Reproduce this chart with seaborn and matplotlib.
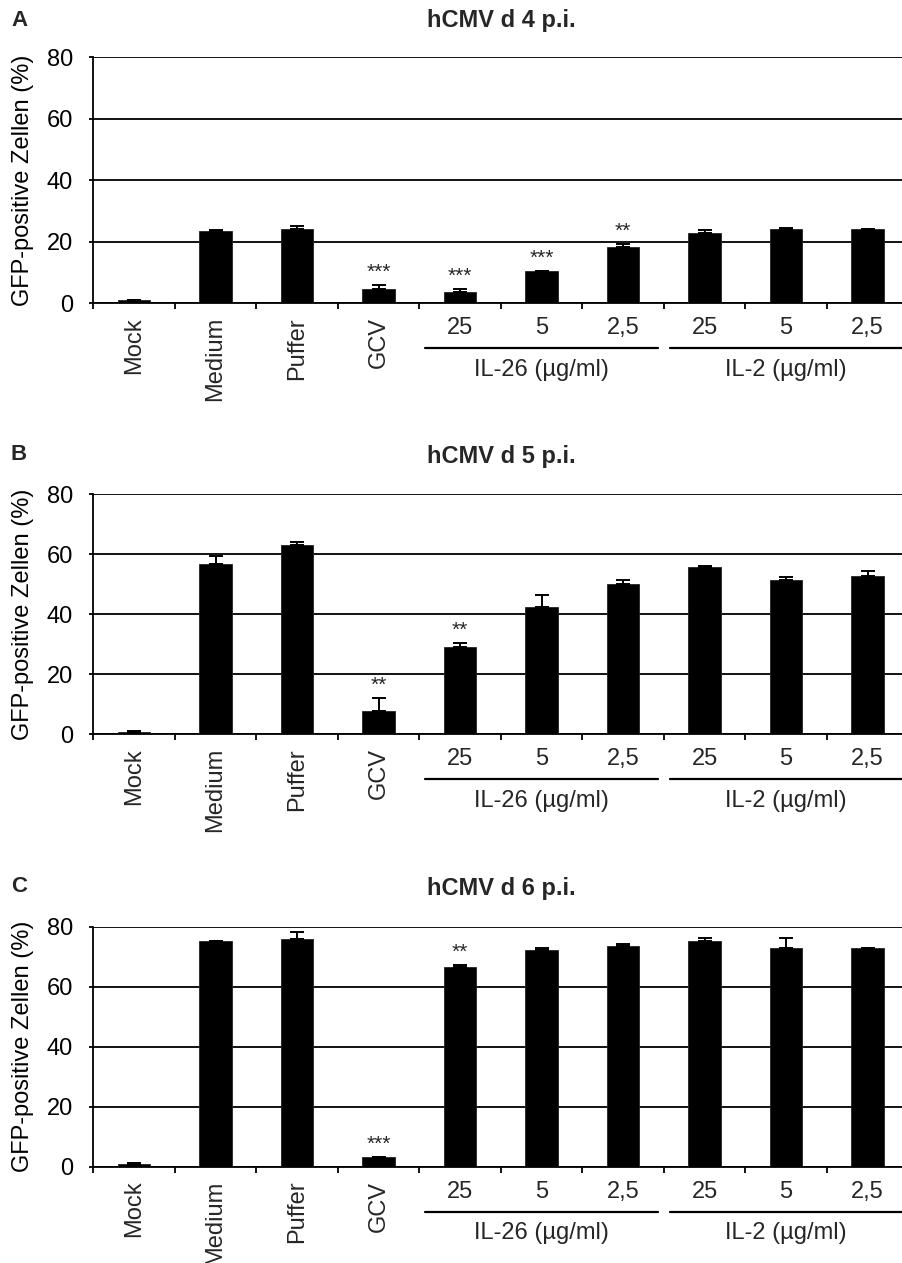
import numpy as np
import pandas as pd
import matplotlib
matplotlib.use("Agg")
import matplotlib.pyplot as plt
import matplotlib.transforms as mtransforms
import seaborn as sns

# ---------------- data ----------------
categories = ['Mock', 'Medium', 'Puffer', 'GCV',
              'IL-26 25', 'IL-26 5', 'IL-26 2,5',
              'IL-2 25', 'IL-2 5', 'IL-2 2,5']
rot_labels = ['Mock', 'Medium', 'Puffer', 'GCV']
dose_labels = ['25', '5', '2,5', '25', '5', '2,5']
group_labels = ['IL-26 (µg/ml)', 'IL-2 (µg/ml)']

vals_d4 = [1.0, 23.6, 24.0, 4.8, 3.7, 10.5, 18.3, 22.7, 24.0, 24.0]
err_d4 = [0.1, 0.3, 1.1, 1.3, 0.9, 0.1, 0.9, 1.1, 0.65, 0.2]
stars_d4 = ['', '', '', '***', '***', '***', '**', '', '', '']

vals_d5 = [0.9, 56.9, 63.0, 7.9, 29.2, 42.3, 50.1, 55.9, 51.5, 52.9]
err_d5 = [0.1, 2.4, 1.0, 4.3, 1.3, 4.1, 1.3, 0.3, 0.8, 1.5]
stars_d5 = ['', '', '', '**', '**', '', '', '', '', '']

vals_d6 = [1.0, 75.1, 75.8, 3.1, 66.5, 72.1, 73.5, 75.1, 72.8, 72.8]
err_d6 = [0.1, 0.3, 2.3, 0.1, 0.8, 0.7, 0.9, 1.0, 3.4, 0.0]
stars_d6 = ['', '', '', '***', '**', '', '', '', '', '']

panel_letters = ['A', 'B', 'C']
titles = ['hCMV d 4 p.i.', 'hCMV d 5 p.i.', 'hCMV d 6 p.i.']
ylabel = 'GFP-positive Zellen (%)'
yticks = [0, 20, 40, 60, 80]

# ---------------- style ----------------
sns.set_style('white')
plt.rcParams['font.family'] = ['Liberation Sans', 'DejaVu Sans']
plt.rcParams['axes.linewidth'] = 1.3

W, H = 902, 1263
fig = plt.figure(figsize=(W / 100, H / 100), dpi=100)

# axes geometry in pixels (top, bottom)
ax_px = [(57.3, 303.3), (494.3, 734.3), (926.7, 1166.7)]
left_px, width_px = 93.3, 815.0
title_y = [21, 457, 888]
letter_y = [21, 455, 887]

datasets = [(vals_d4, err_d4, stars_d4),
            (vals_d5, err_d5, stars_d5),
            (vals_d6, err_d6, stars_d6)]

FS = 17
for k, ((top, bot), (vals, errs, stars)) in enumerate(zip(ax_px, datasets)):
    ax = fig.add_axes([left_px / W, (H - bot) / H, width_px / W, (bot - top) / H])
    df = pd.DataFrame({'cat': categories, 'val': vals})
    sns.barplot(data=df, x='cat', y='val', order=categories, color='black',
                saturation=1, width=0.4, errorbar=None, ax=ax,
                edgecolor='#222222', linewidth=0.6, zorder=3)
    x = np.arange(len(categories))
    ax.errorbar(x, vals, yerr=[np.zeros(len(errs)), errs], fmt='none',
                ecolor='black', elinewidth=1.4, capsize=5, capthick=1.4, zorder=4)

    ax.set_xlim(-0.5, 9.5)
    ax.set_ylim(0, 80)
    ax.set_yticks(yticks)
    ax.yaxis.grid(True, color='black', linewidth=1.3, zorder=0)
    ax.xaxis.grid(False)
    ax.set_axisbelow(True)
    for s in ['top', 'right']:
        ax.spines[s].set_visible(False)
    ax.spines['left'].set_color('black')
    ax.spines['bottom'].set_color('black')

    ax.set_xticks(np.arange(-0.5, 10, 1))
    ax.set_xticklabels([])
    ax.tick_params(axis='x', direction='out', length=4.5, width=1.3, color='black', bottom=True)
    ax.tick_params(axis='y', direction='out', length=3, width=1.3, color='black', left=True,
                   labelsize=FS, pad=11.5, labelcolor='black')
    ax.set_xlabel('')
    ax.set_ylabel(ylabel, fontsize=FS, color='black')
    ax.yaxis.set_label_coords(-(left_px - 22.7) / width_px, 0.5)
    ax.yaxis.label.set_verticalalignment('center')

    xt = ax.get_xaxis_transform()
    # rotated category labels
    for i, lab in enumerate(rot_labels):
        ax.annotate(lab, xy=(i, 0), xycoords=xt, xytext=(0, -10), textcoords='offset points',
                    rotation=90, ha='center', va='top', fontsize=FS, annotation_clip=False)
    # dose labels
    for j, lab in enumerate(dose_labels):
        ax.annotate(lab, xy=(4 + j, 0), xycoords=xt, xytext=(0, -18), textcoords='offset points',
                    ha='center', va='center', fontsize=FS, annotation_clip=False)
    # group lines and labels
    line_tr = xt + mtransforms.ScaledTranslation(0, -45 / 100, fig.dpi_scale_trans)
    for g, lab in enumerate(group_labels):
        x0, x1 = 3.5 + 3 * g, 6.5 + 3 * g
        ax.plot([x0 + 0.07, x1 - 0.07], [0, 0], color='black', lw=1.6,
                transform=line_tr, clip_on=False)
        ax.annotate(lab, xy=((x0 + x1) / 2, 0), xycoords=xt, xytext=(0, -48),
                    textcoords='offset points', ha='center', va='center', fontsize=FS,
                    annotation_clip=False)
    # significance stars
    for i, s in enumerate(stars):
        if s:
            ax.annotate(s, xy=(i, vals[i] + errs[i]), xytext=(0, 9), textcoords='offset points',
                        ha='center', va='center', fontsize=15, annotation_clip=False)

    fig.text(501 / W, 1 - title_y[k] / H, titles[k], ha='center', va='center',
             fontsize=17, fontweight='bold')
    fig.text(11 / W, 1 - letter_y[k] / H, panel_letters[k], ha='left', va='center',
             fontsize=16, fontweight='bold')

fig.savefig('out.png', dpi=100)
